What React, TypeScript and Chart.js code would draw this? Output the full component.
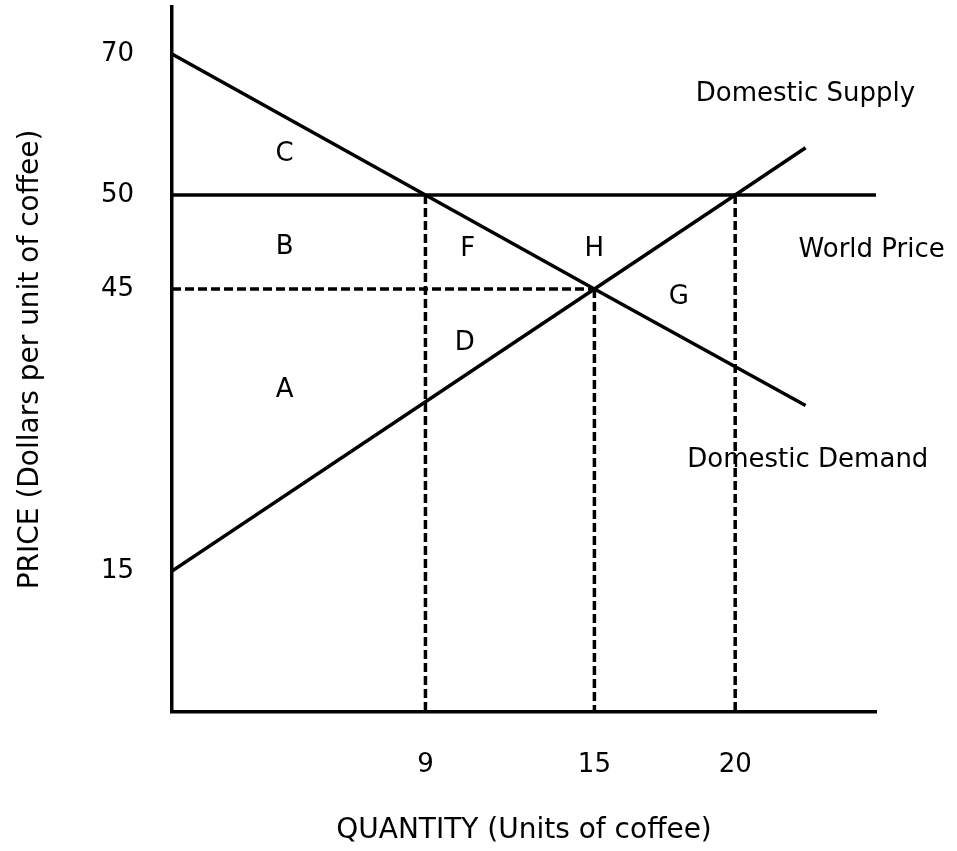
import React, { useEffect, useRef } from 'react';
import { Chart, LinearScale, registerables } from 'chart.js';

// ---------------- data ----------------
const supplyQ = [0, 15, 20, 22.5];
const supplyP = [15, 45, 50, 56.7];
const demandQ = [0, 9, 15, 22.5];
const demandP = [70, 50, 45, 32.6];
const worldPriceQ = [0, 25];
const worldPrice = 50;
const equilibriumQ = 15;
const equilibriumP = 45;
const domesticQAtWorldPrice = 9;
const supplyQAtWorldPrice = 20;

const xTickValues = [9, 15, 20];
const yTickValues = [15, 45, 50, 70];

const regionLetters = ['C', 'B', 'A', 'F', 'H', 'D', 'G'];
const regionQ = [4, 4, 4, 10.5, 15, 10.4, 18];
const regionP = [56.2, 47.4, 34.5, 47.3, 47.3, 39.6, 44.4];

const curveLabels = ['Domestic Supply', 'World Price', 'Domestic Demand'];
const curveLabelQ = [18.6, 22.25, 18.3];
const curveLabelP = [64.7, 47.2, 27.1];

// ---------------- schematic (not-to-scale) price axis ----------------
const Y_BREAK_VALUES = [0, 45, 50, 70, 80];
const Y_BREAK_POSITIONS = [0, 45, 55, 70, 77.5];

function interp(v: number, xs: number[], ys: number[]) {
  for (let i = 0; i < xs.length - 1; i++) {
    if (v <= xs[i + 1] || i === xs.length - 2) {
      const t = (v - xs[i]) / (xs[i + 1] - xs[i]);
      return ys[i] + t * (ys[i + 1] - ys[i]);
    }
  }
  return ys[0];
}
const toPos = (v: number) => interp(v, Y_BREAK_VALUES, Y_BREAK_POSITIONS);
const toVal = (u: number) => interp(u, Y_BREAK_POSITIONS, Y_BREAK_VALUES);

class SchematicScale extends LinearScale {
  static id = 'schematic';
  static defaults = LinearScale.defaults;
  getPixelForValue(value: any) {
    if (value === null || value === undefined) return NaN;
    return super.getPixelForValue(toPos(value));
  }
  getValueForPixel(pixel: number) {
    return toVal(super.getValueForPixel(pixel) as number);
  }
}

Chart.register(...registerables, SchematicScale as any);

const FONT = "'DejaVu Sans', 'Liberation Sans', Arial, sans-serif";
const TEXT = '#000000';
const INK = '#000000';
const LINE_W = 3.5;
const LABEL_DY = 3;

function lineSet(xs: number[], ys: number[], dashed: boolean) {
  return {
    data: xs.map((q, i) => ({ x: q, y: ys[i] })),
    borderColor: INK,
    borderWidth: LINE_W,
    borderDash: dashed ? [9, 4] : [],
    pointRadius: 0,
    pointHoverRadius: 0,
    fill: false,
    tension: 0,
    showLine: true,
  };
}

const labelPlugin = {
  id: 'diagramLabels',
  afterDatasetsDraw(chart: any) {
    const { ctx } = chart;
    const x = chart.scales.x;
    const y = chart.scales.y;
    ctx.save();
    ctx.fillStyle = TEXT;
    ctx.font = `26px ${FONT}`;
    ctx.textBaseline = 'middle';
    ctx.textAlign = 'center';
    regionLetters.forEach((t, i) => {
      ctx.fillText(t, x.getPixelForValue(regionQ[i]), y.getPixelForValue(regionP[i]) + LABEL_DY);
    });
    ctx.textAlign = 'left';
    curveLabels.forEach((t, i) => {
      ctx.fillText(t, x.getPixelForValue(curveLabelQ[i]), y.getPixelForValue(curveLabelP[i]) + LABEL_DY);
    });
    ctx.restore();
  },
};

export default function App() {
  const ref = useRef<HTMLCanvasElement>(null);

  useEffect(() => {
    if (!ref.current) return;
    const chart = new Chart(ref.current, {
      type: 'line',
      data: {
        datasets: [
          lineSet(demandQ, demandP, false),
          lineSet(supplyQ, supplyP, false),
          lineSet(worldPriceQ, worldPriceQ.map(() => worldPrice), false),
          lineSet([0, equilibriumQ], [equilibriumP, equilibriumP], true),
          lineSet([domesticQAtWorldPrice, domesticQAtWorldPrice], [worldPrice, 0], true),
          lineSet([equilibriumQ, equilibriumQ], [equilibriumP, 0], true),
          lineSet([supplyQAtWorldPrice, supplyQAtWorldPrice], [worldPrice, 0], true),
        ] as any,
      },
      options: {
        responsive: false,
        animation: false,
        devicePixelRatio: 1,
        events: [],
        layout: { padding: { top: 7, right: 81, bottom: 0, left: 0 } },
        plugins: {
          legend: { display: false },
          tooltip: { enabled: false },
        },
        scales: {
          x: {
            type: 'linear',
            min: 0,
            max: 25,
            grid: { display: false, drawTicks: false },
            border: { display: true, width: LINE_W, color: INK },
            afterBuildTicks: (s: any) => {
              s.ticks = xTickValues.map((v) => ({ value: v }));
            },
            afterFit: (s: any) => {
              s.height = 139;
              s.paddingLeft = 0;
              s.paddingRight = 0;
            },
            ticks: {
              autoSkip: false,
              maxRotation: 0,
              padding: 38,
              color: TEXT,
              font: { family: FONT, size: 26 },
              callback: (v: any) => String(v),
            },
            title: {
              display: true,
              text: 'QUANTITY (Units of coffee)',
              color: TEXT,
              font: { family: FONT, size: 28 },
              padding: { top: 0, bottom: 3 },
            },
          },
          y: {
            type: 'schematic' as any,
            min: 0,
            max: 75,
            grid: { display: false, drawTicks: false },
            border: { display: true, width: LINE_W, color: INK },
            afterBuildTicks: (s: any) => {
              s.ticks = yTickValues.map((v) => ({ value: v }));
            },
            afterFit: (s: any) => {
              s.width = 172;
              s.paddingTop = 0;
              s.paddingBottom = 0;
            },
            ticks: {
              autoSkip: false,
              padding: 38,
              color: TEXT,
              font: { family: FONT, size: 26 },
              callback: (v: any) => String(v),
            },
            title: {
              display: true,
              text: 'PRICE (Dollars per unit of coffee)',
              color: TEXT,
              font: { family: FONT, size: 28 },
              padding: { top: 14, bottom: 0 },
            },
          },
        } as any,
      },
      plugins: [labelPlugin],
    });
    return () => chart.destroy();
  }, []);

  return (
    <div style={{ position: 'absolute', left: 0, top: 0, width: 957, height: 851, background: '#fff' }}>
      <canvas ref={ref} width={957} height={851} style={{ display: 'block', width: 957, height: 851 }} />
    </div>
  );
}
